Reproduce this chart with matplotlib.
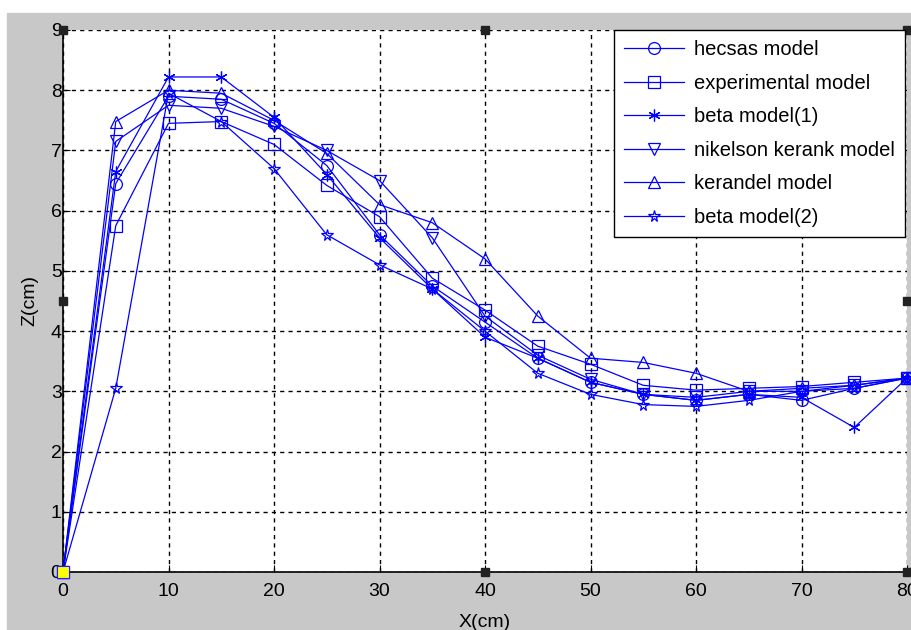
import matplotlib
matplotlib.use("Agg")
import matplotlib.pyplot as plt
from matplotlib.patches import Rectangle

plt.rcParams["font.family"] = ["Liberation Sans", "DejaVu Sans"]

# distances along the section (cm)
x_cm = [0, 5, 10, 15, 20, 25, 30, 35, 40, 45, 50, 55, 60, 65, 70, 75, 80]

hecsas = [0, 6.45, 7.90, 7.85, 7.45, 6.75, 5.60, 4.75, 4.15, 3.55, 3.15, 2.95, 2.85, 2.95, 2.85, 3.05, 3.22]
experimental = [0, 5.75, 7.45, 7.48, 7.10, 6.42, 5.90, 4.88, 4.35, 3.75, 3.45, 3.10, 3.02, 3.05, 3.08, 3.15, 3.22]
beta1 = [0, 6.65, 8.22, 8.22, 7.55, 6.60, 5.55, 4.70, 3.90, 3.55, 3.15, 2.95, 2.85, 2.95, 2.90, 2.40, 3.22]
nikelson = [0, 7.15, 7.75, 7.70, 7.40, 7.00, 6.50, 5.55, 4.25, 3.60, 3.20, 2.95, 2.90, 3.00, 3.00, 3.10, 3.22]
kerandel = [0, 7.48, 8.00, 7.95, 7.50, 6.95, 6.10, 5.80, 5.20, 4.25, 3.55, 3.48, 3.30, 3.00, 3.05, 3.10, 3.22]
beta2 = [0, 3.05, 7.95, 7.48, 6.70, 5.60, 5.10, 4.70, 4.00, 3.30, 2.95, 2.78, 2.75, 2.85, 3.00, 3.05, 3.22]

series = [
    ("hecsas model", hecsas, "o"),
    ("experimental model", experimental, "s"),
    ("beta model(1)", beta1, (6, 2, 0)),
    ("nikelson kerank model", nikelson, "v"),
    ("kerandel model", kerandel, "^"),
    ("beta model(2)", beta2, "*"),
]

W, H = 911, 630
fig = plt.figure(figsize=(W / 100, H / 100), dpi=100, facecolor="white")
# grey window background (screenshot starts with a thin white margin)
fig.patches.append(Rectangle((7 / W, 0), 1 - 7 / W, (H - 13) / H,
                             transform=fig.transFigure, color="#c8c8c8", zorder=-10))

ax = fig.add_axes([63 / W, (H - 572) / H, (907 - 63) / W, (572 - 30) / H])
ax.set_facecolor("white")

for label, y, mk in series:
    ax.plot(x_cm, y, color="#0000ff", lw=0.9, marker=mk, markersize=8.5,
            markerfacecolor="none", markeredgecolor="#0000ff", markeredgewidth=0.9,
            label=label, clip_on=False, zorder=3)

ax.set_xlim(0, 80)
ax.set_ylim(0, 9)
ax.set_xticks(range(0, 81, 10))
ax.set_yticks(range(0, 10))
ax.grid(True, color="black", linestyle=(0, (3, 3)), linewidth=1.0)
ax.set_axisbelow(True)
for side in ("top", "right"):
    ax.spines[side].set_visible(False)
for side in ("left", "bottom"):
    ax.spines[side].set_color("black")
    ax.spines[side].set_linewidth(1.2)
ax.tick_params(direction="in", length=5, labelsize=14, colors="black")
ax.tick_params(axis="x", pad=8)
ax.tick_params(axis="y", pad=1)

ax.set_xlabel("X(cm)", fontsize=14, labelpad=10)
ax.set_ylabel("Z(cm)", fontsize=14, labelpad=9)

leg = ax.legend(loc="upper right", bbox_to_anchor=(0.998, 1.0), fontsize=14.5,
                frameon=True, fancybox=False, edgecolor="black", framealpha=1,
                handlelength=3.0, handletextpad=0.5, borderpad=0.5,
                labelspacing=0.72, borderaxespad=0.0)
leg.get_frame().set_linewidth(1.0)

# editing handles from the original screenshot
handles = [(0, 1), (0.5, 1), (1, 1), (0, 0.5), (1, 0.5), (0.5, 0), (1, 0)]
for hx, hy in handles:
    ax.plot(hx, hy, marker="s", markersize=6, color="#222222",
            transform=ax.transAxes, clip_on=False, zorder=5)
ax.plot(0, 0, marker="s", markersize=9, color="#ffff00", markeredgecolor="#2020ff",
        markeredgewidth=0.8, transform=ax.transAxes, clip_on=False, zorder=6)

fig.savefig("out.png", dpi=100, facecolor=fig.get_facecolor())
